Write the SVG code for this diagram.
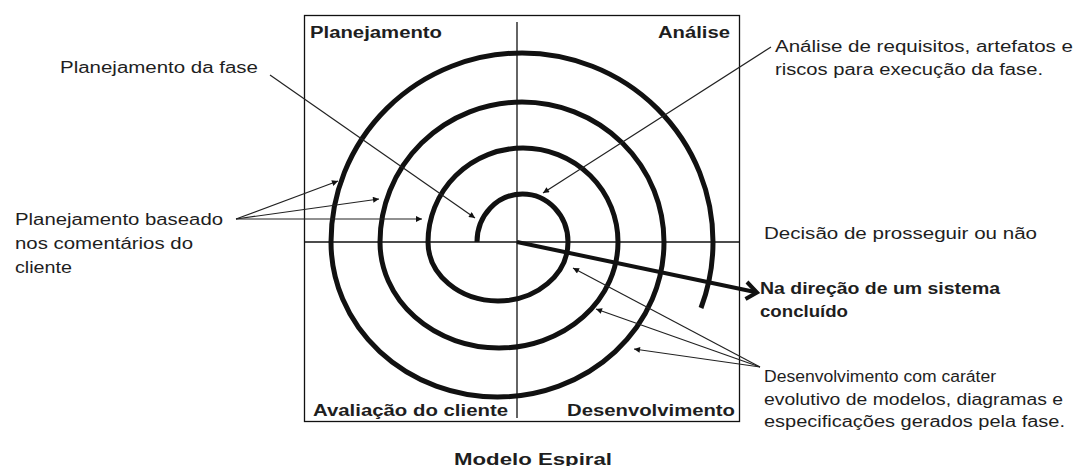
<svg xmlns="http://www.w3.org/2000/svg" width="1088" height="466" viewBox="0 0 1088 466">
<style>
text{font-family:"Liberation Sans",Arial,sans-serif;fill:#1e1e1e;font-size:16px}
.b{font-weight:bold}
.thin{stroke:#111;stroke-width:1.3;fill:none}
.ptr{stroke:#222;stroke-width:1.2;fill:none}
</style>
<defs>
<marker id="ah" viewBox="0 0 10 10" refX="10" refY="5" markerWidth="9" markerHeight="6" markerUnits="userSpaceOnUse" orient="auto">
<path d="M0,0 L10,5 L0,10 z" fill="#111"/>
</marker>
</defs>
<rect width="1088" height="466" fill="#fff"/>
<g id="frame">
<rect x="304.5" y="15.5" width="435" height="406" class="thin" stroke-width="1.6"/>
<line x1="517" y1="22" x2="517" y2="418" class="thin"/>
<line x1="304" y1="242" x2="740" y2="242" class="thin"/>
</g>
<g id="spiral">
<path d="M477 242 A45.5 48 0 0 1 568 242 A70 59 0 0 1 428 242 A95 94 0 0 1 618 242 A119 106 0 0 1 380 242 A142 140 0 0 1 664 242 A166.5 155 0 0 1 331 242 A191 189 0 0 1 713 242 A191 189 0 0 1 701 308" fill="none" stroke="#111" stroke-width="5"/>
</g>
<g id="quadrant-labels">
<text class="b" x="310" y="38" textLength="132" lengthAdjust="spacingAndGlyphs">Planejamento</text>
<text class="b" x="658" y="38" textLength="72" lengthAdjust="spacingAndGlyphs">Análise</text>
<text class="b" x="313" y="416" textLength="195" lengthAdjust="spacingAndGlyphs">Avaliação do cliente</text>
<text class="b" x="567" y="416" textLength="168" lengthAdjust="spacingAndGlyphs">Desenvolvimento</text>
</g>
<g id="title">
<text class="b" x="454" y="465" font-size="19" textLength="158" lengthAdjust="spacingAndGlyphs">Modelo Espiral</text>
</g>
<g id="note-planejamento-fase">
<text x="60" y="73" textLength="198" lengthAdjust="spacingAndGlyphs">Planejamento da fase</text>
</g>
<g id="note-planejamento-baseado">
<text x="15" y="225" textLength="208" lengthAdjust="spacingAndGlyphs">Planejamento baseado</text>
<text x="15" y="249" textLength="178" lengthAdjust="spacingAndGlyphs">nos comentários do</text>
<text x="15" y="273" textLength="57" lengthAdjust="spacingAndGlyphs">cliente</text>
</g>
<g id="note-analise">
<text x="775" y="52" textLength="298" lengthAdjust="spacingAndGlyphs">Análise de requisitos, artefatos e</text>
<text x="775" y="75" textLength="268" lengthAdjust="spacingAndGlyphs">riscos para execução da fase.</text>
</g>
<g id="note-decisao">
<text x="764" y="239" textLength="273" lengthAdjust="spacingAndGlyphs">Decisão de prosseguir ou não</text>
</g>
<g id="note-direcao">
<text class="b" x="760" y="294" textLength="240" lengthAdjust="spacingAndGlyphs">Na direção de um sistema</text>
<text class="b" x="760" y="317" textLength="88" lengthAdjust="spacingAndGlyphs">concluído</text>
</g>
<g id="note-desenvolvimento">
<text x="764" y="382" textLength="232" lengthAdjust="spacingAndGlyphs">Desenvolvimento com caráter</text>
<text x="764" y="405" textLength="299" lengthAdjust="spacingAndGlyphs">evolutivo de modelos, diagramas e</text>
<text x="764" y="427" textLength="301" lengthAdjust="spacingAndGlyphs">especificações gerados pela fase.</text>
</g>
<g id="connectors">
<line x1="270" y1="75" x2="475" y2="218" class="ptr" marker-end="url(#ah)"/>
<line x1="771" y1="47" x2="543" y2="193" class="ptr" marker-end="url(#ah)"/>
<line x1="236" y1="219" x2="338" y2="181" class="ptr" marker-end="url(#ah)"/>
<line x1="236" y1="219" x2="379" y2="199" class="ptr" marker-end="url(#ah)"/>
<line x1="236" y1="219" x2="422" y2="219" class="ptr" marker-end="url(#ah)"/>
<line x1="760" y1="367" x2="573" y2="268" class="ptr" marker-end="url(#ah)"/>
<line x1="760" y1="367" x2="596" y2="309" class="ptr" marker-end="url(#ah)"/>
<line x1="760" y1="367" x2="634" y2="349" class="ptr" marker-end="url(#ah)"/>
<line x1="517" y1="242" x2="755" y2="292" stroke="#111" stroke-width="4"/>
<path d="M747 282 L757 292.5 L745.5 299" fill="none" stroke="#111" stroke-width="4" stroke-linejoin="miter"/>
</g>
</svg>
